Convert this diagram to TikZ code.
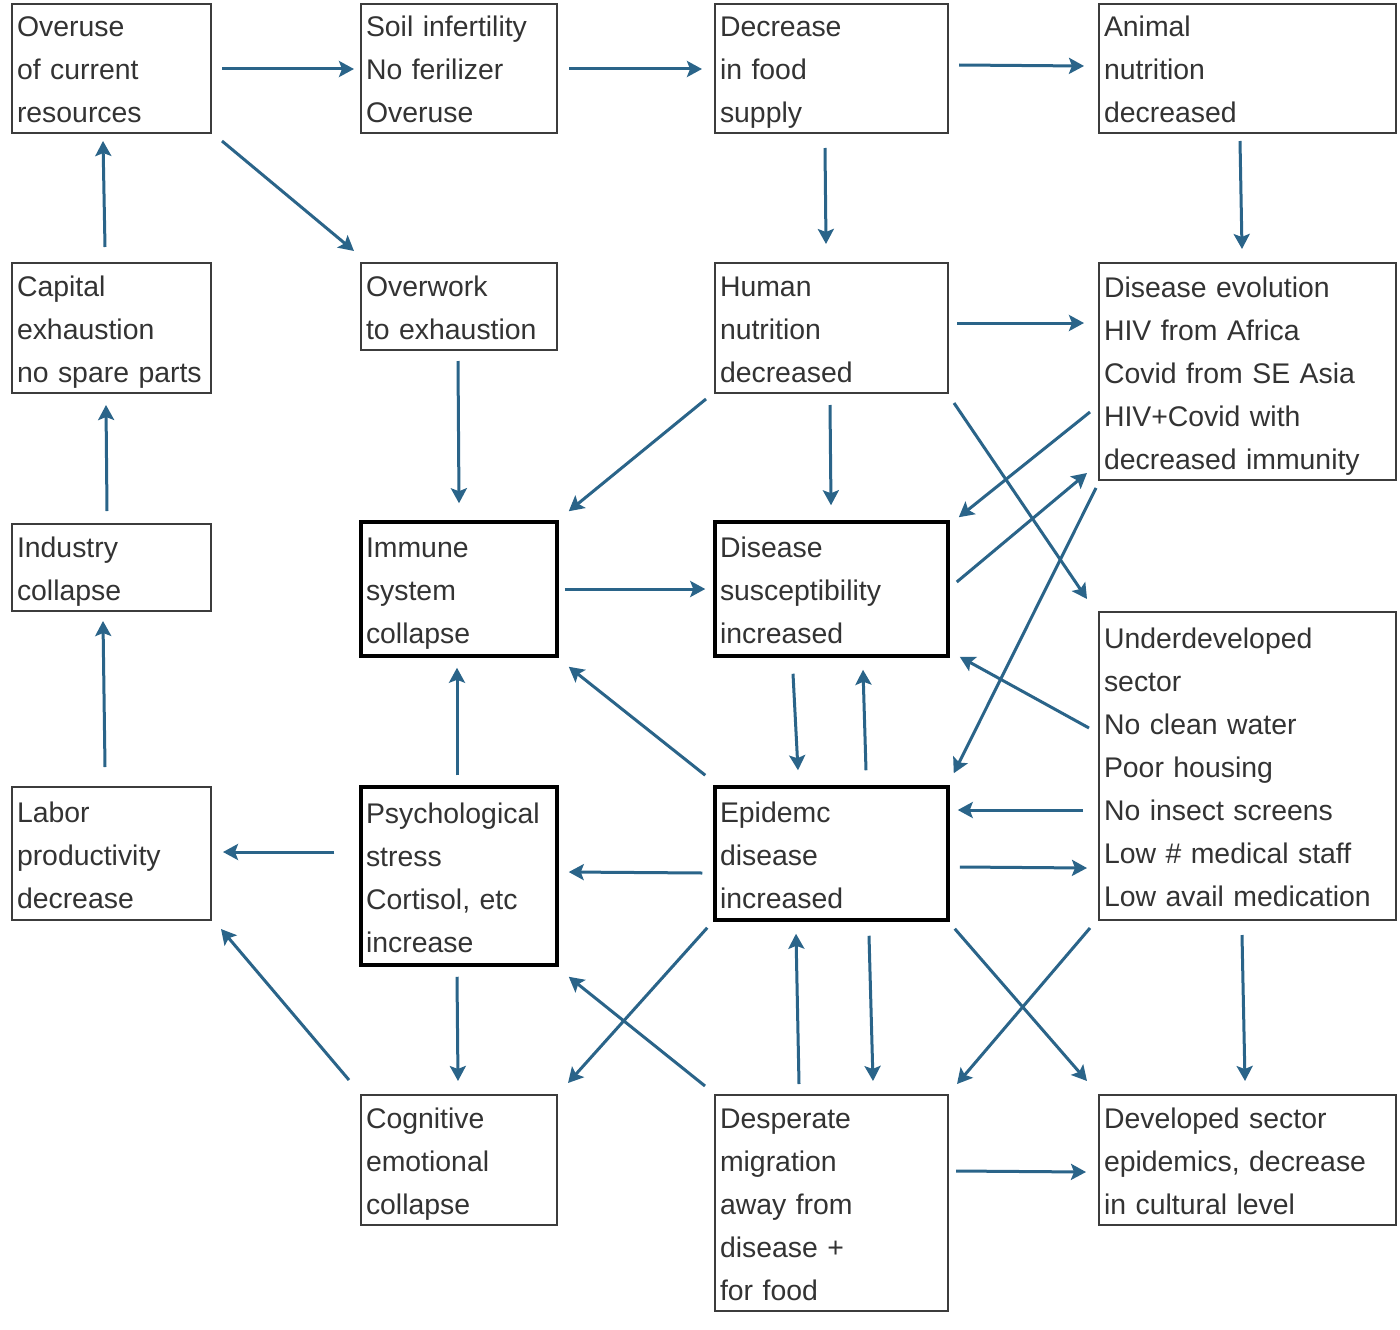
\documentclass[tikz,border=0pt]{standalone}
\usepackage{fontspec}
\setmainfont{Liberation Sans}
\usetikzlibrary{arrows.meta}
\definecolor{arrc}{HTML}{2A6489}
\definecolor{txt}{HTML}{333333}
\definecolor{bord}{HTML}{3C3C3C}
\newcommand{\mystrut}{\rule[-10pt]{0pt}{43pt}}
\begin{document}
\begin{tikzpicture}[x=1pt,y=-1pt,
  box/.style={draw=bord, line width=2pt, rectangle, inner xsep=5pt, inner ysep=0pt,
    align=left, text=txt, font=\fontsize{28.4}{43}\selectfont,
    execute at begin node=\mystrut, execute at end node=\mystrut},
  tbox/.style={box, draw=black, line width=3.5pt},
  arr/.style={draw=arrc, line width=3pt, -{Stealth[length=15pt,width=16pt,inset=3pt]}}]
\useasboundingbox (0,0) rectangle (1400,1330);
\fill[white] (0,0) rectangle (1400,1330);
\newcommand{\bxn}[7]{\node[#1, minimum width=#4pt, minimum height=#5pt, text width=#6pt] (#2) at #3 {#7};}
% row 1
\bxn{box}{overuse}{(111.5,68.5)}{199}{129}{189}{Overuse\\of current\\resources}
\bxn{box}{soil}{(459,68.5)}{196}{129}{186}{Soil infertility\\No ferilizer\\Overuse}
\bxn{box}{decr}{(831.5,68.5)}{233}{129}{223}{Decrease\\in food\\supply}
\bxn{box}{animal}{(1247.5,68.5)}{297}{129}{287}{Animal\\nutrition\\decreased}
% row 2
\bxn{box}{capital}{(111.5,328)}{199}{130}{189}{Capital\\exhaustion\\no spare parts}
\bxn{box}{overwork}{(459,306.5)}{196}{87}{186}{Overwork\\to exhaustion}
\bxn{box}{human}{(831.5,328)}{233}{130}{223}{Human\\nutrition\\decreased}
\bxn{box}{disevo}{(1247.5,371.5)}{297}{217}{287}{Disease evolution\\HIV from Africa\\Covid from SE Asia\\HIV+Covid with\\decreased immunity}
% row 3
\bxn{box}{industry}{(111.5,567.5)}{199}{87}{189}{Industry\\collapse}
\bxn{tbox}{immune}{(459,589)}{196}{134}{186}{Immune\\system\\collapse}
\bxn{tbox}{susc}{(831.5,589)}{233}{134}{223}{Disease\\susceptibility\\increased}
\bxn{box}{under}{(1247.5,766)}{297}{308}{287}{Underdeveloped\\sector\\No clean water\\Poor housing\\No insect screens\\Low \# medical staff\\Low avail medication}
% row 4
\bxn{box}{labor}{(111.5,853.5)}{199}{133}{189}{Labor\\productivity\\decrease}
\bxn{tbox}{psych}{(459,876)}{196}{178}{186}{Psychological\\stress\\Cortisol, etc\\increase}
\bxn{tbox}{epid}{(831.5,853.5)}{233}{133}{223}{Epidemc\\disease\\increased}
% row 5
\bxn{box}{cogn}{(459,1160)}{196}{130}{186}{Cognitive\\emotional\\collapse}
\bxn{box}{desp}{(831.5,1203)}{233}{216}{223}{Desperate\\migration\\away from\\disease +\\for food}
\bxn{box}{devel}{(1247.5,1160)}{297}{130}{287}{Developed sector\\epidemics, decrease\\in cultural level}
% arrows
\draw[arr] ([shift={(10,0.5)}]overuse.east) -- ([shift={(-6,0.5)}]soil.west);
\draw[arr] ([shift={(11,0.5)}]soil.east) -- ([shift={(-12,0.5)}]decr.west);
\draw[arr] ([shift={(10,-3.5)}]decr.east) -- ([shift={(-14,-2.5)}]animal.west);
\draw[arr] ([shift={(-6.5,-15)}]capital.north) -- ([shift={(-8.5,7)}]overuse.south);
\draw[arr] ([shift={(10,7)}]overuse.south east) -- ([shift={(-6,-11)}]overwork.north west);
\draw[arr] ([shift={(-6.5,14)}]decr.south) -- ([shift={(-5.5,-18)}]human.north);
\draw[arr] ([shift={(-7.5,7)}]animal.south) -- ([shift={(-5.5,-13)}]disevo.north);
\draw[arr] ([shift={(-4.5,-12)}]industry.north) -- ([shift={(-5.5,11)}]capital.south);
\draw[arr] ([shift={(-1,10)}]overwork.south) -- ([shift={(0,-17)}]immune.north);
\draw[arr] ([shift={(8,-5)}]human.east) -- ([shift={(-14,-48.5)}]disevo.west);
\draw[arr] ([shift={(-8,5)}]human.south west) -- ([shift={(10,-9)}]immune.north east);
\draw[arr] ([shift={(-1.5,11)}]human.south) -- ([shift={(-0.5,-15)}]susc.north);
\draw[arr] ([shift={(5,9)}]human.south east) -- ([shift={(-11,-12)}]under.north west);
\draw[arr] ([shift={(-8,40.5)}]disevo.west) -- ([shift={(9,-3)}]susc.north east);
\draw[arr] ([shift={(7,-7)}]susc.east) -- ([shift={(-11,-8)}]disevo.south west);
\draw[arr] ([shift={(-2,7)}]disevo.south west) -- ([shift={(4,-12)}]epid.north east);
\draw[arr] ([shift={(-6.5,-19)}]labor.north) -- ([shift={(-8.5,9)}]industry.south);
\draw[arr] ([shift={(6,0)}]immune.east) -- ([shift={(-8,0)}]susc.west);
\draw[arr] ([shift={(-38.5,16)}]susc.south) -- ([shift={(-33.5,-15)}]epid.north);
\draw[arr] ([shift={(34.5,-15)}]epid.north) -- ([shift={(31.5,12)}]susc.south);
\draw[arr] ([shift={(-9,-38)}]under.west) -- ([shift={(10,-1)}]susc.south east);
\draw[arr] ([shift={(-8,-10)}]epid.north west) -- ([shift={(10,9)}]immune.south east);
\draw[arr] ([shift={(-2,-10)}]psych.north) -- ([shift={(-2,10)}]immune.south);
\draw[arr] ([shift={(-15,44)}]under.west) -- ([shift={(8,-43.5)}]epid.east);
\draw[arr] ([shift={(10,13.5)}]epid.east) -- ([shift={(-11,102)}]under.west);
\draw[arr] ([shift={(-25,-24)}]psych.west) -- ([shift={(11,-1.5)}]labor.east);
\draw[arr] ([shift={(-11,19.5)}]epid.west) -- ([shift={(10,-4)}]psych.east);
\draw[arr] ([shift={(-2,10)}]psych.south) -- ([shift={(-1,-13)}]cogn.north);
\draw[arr] ([shift={(-11,-14)}]cogn.north west) -- ([shift={(9,8)}]labor.south east);
\draw[arr] ([shift={(-6,6)}]epid.south west) -- ([shift={(10,-11)}]cogn.north east);
\draw[arr] ([shift={(-9,-8)}]desp.north west) -- ([shift={(10,10)}]psych.south east);
\draw[arr] ([shift={(-32.5,-10)}]desp.north) -- ([shift={(-35.5,12)}]epid.south);
\draw[arr] ([shift={(37.5,14)}]epid.south) -- ([shift={(41.5,-13)}]desp.north);
\draw[arr] ([shift={(5,7)}]epid.south east) -- ([shift={(-11,-13)}]devel.north west);
\draw[arr] ([shift={(-8,7)}]under.south west) -- ([shift={(8,-10)}]desp.north east);
\draw[arr] ([shift={(-5.5,14)}]under.south) -- ([shift={(-2.5,-13)}]devel.north);
\draw[arr] ([shift={(7,-32)}]desp.east) -- ([shift={(-12,12)}]devel.west);
\end{tikzpicture}
\end{document}
